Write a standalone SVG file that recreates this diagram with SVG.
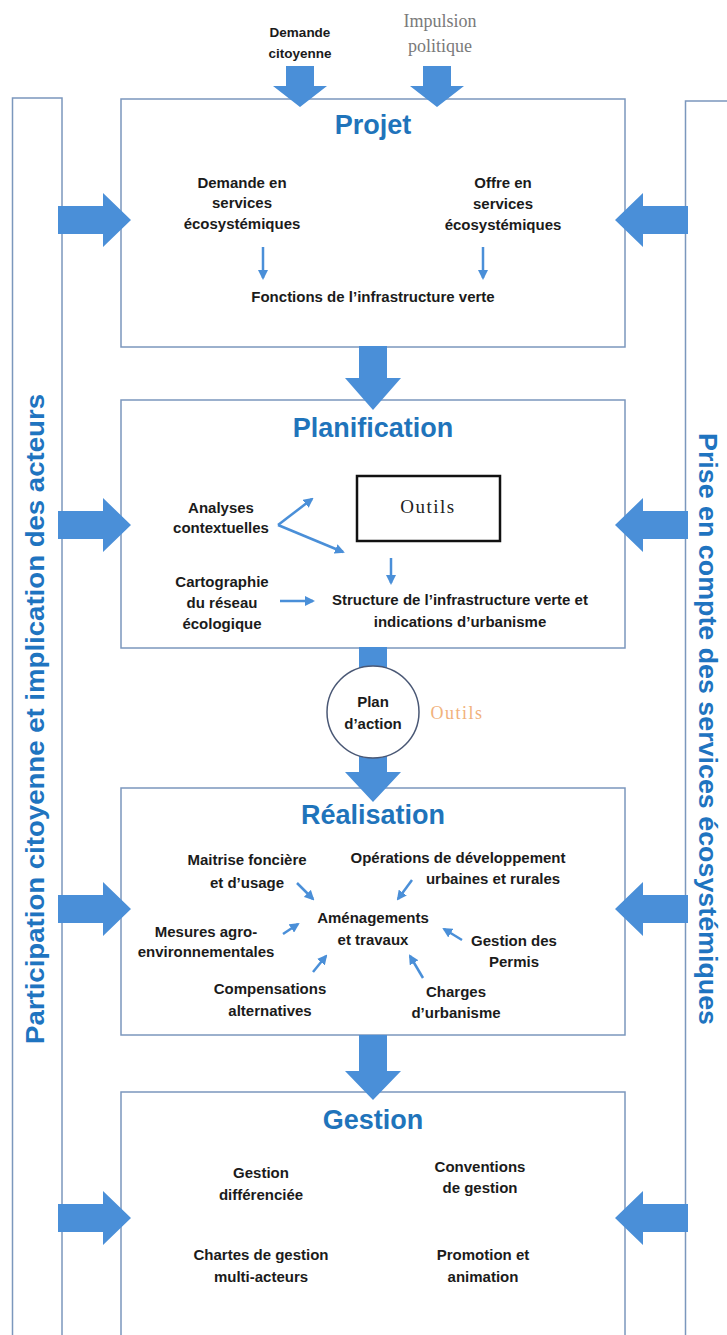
<svg xmlns="http://www.w3.org/2000/svg" width="727" height="1335" viewBox="0 0 727 1335">
<defs>
<style>
.box{fill:#ffffff;stroke:#7b97bd;stroke-width:1.5}
.bar{fill:#ffffff;stroke:#7b97bd;stroke-width:1.5}
.big{fill:#4a8fd8}
.thin{fill:none;stroke:#4a8fd8;stroke-width:2.5;marker-end:url(#ah)}
.t{font-family:'Liberation Sans',Arial,sans-serif;font-weight:bold;font-size:15px;fill:#1b1b1b;text-anchor:middle}
.title{font-family:'Liberation Sans',Arial,sans-serif;font-weight:bold;font-size:27px;fill:#1f74bb;text-anchor:middle}
.side{font-family:'Liberation Sans',Arial,sans-serif;font-weight:bold;font-size:25px;fill:#1f74c0;text-anchor:middle}
.serif{font-family:'Liberation Serif','Times New Roman',serif;text-anchor:middle}
</style>
<marker id="ah" viewBox="0 0 10 10" refX="8" refY="5" markerWidth="4" markerHeight="4" orient="auto">
<path d="M0,0 L10,5 L0,10 z" fill="#4a8fd8"/>
</marker>
</defs>
<rect width="727" height="1335" fill="#ffffff"/>

<g id="node-left-bar">
<rect class="bar" x="12.5" y="98" width="49.5" height="1260"/>
<text class="side" transform="translate(44,719) rotate(-90)" textLength="650" lengthAdjust="spacingAndGlyphs">Participation citoyenne et implication des acteurs</text>
</g>

<g id="node-right-bar">
<rect class="bar" x="685.5" y="101" width="60" height="1260"/>
<text class="side" transform="translate(699,729) rotate(90)" textLength="592" lengthAdjust="spacingAndGlyphs">Prise en compte des services écosystémiques</text>
</g>

<g id="node-demande-citoyenne">
<text class="t" x="300" y="37" style="font-size:13.5px">Demande</text>
<text class="t" x="300" y="58" style="font-size:13.5px">citoyenne</text>
</g>

<g id="node-impulsion-politique">
<text class="serif" x="440" y="27" style="font-size:18px;fill:#7a7a7a">Impulsion</text>
<text class="serif" x="440" y="52" style="font-size:18px;fill:#7a7a7a">politique</text>
</g>

<g id="node-projet">
<rect class="box" x="121" y="99" width="504" height="248"/>
<text class="title" x="373" y="134">Projet</text>
<text class="t" x="242" y="188">Demande en</text>
<text class="t" x="242" y="208">services</text>
<text class="t" x="242" y="229">écosystémiques</text>
<text class="t" x="503" y="188">Offre en</text>
<text class="t" x="503" y="209">services</text>
<text class="t" x="503" y="230">écosystémiques</text>
<text class="t" x="373" y="302">Fonctions de l’infrastructure verte</text>
</g>

<g id="node-planification">
<rect class="box" x="121" y="400" width="504" height="248"/>
<text class="title" x="373" y="437">Planification</text>
<text class="t" x="221" y="513">Analyses</text>
<text class="t" x="221" y="533">contextuelles</text>
<text class="t" x="222" y="587">Cartographie</text>
<text class="t" x="222" y="608">du réseau</text>
<text class="t" x="222" y="629">écologique</text>
<text class="t" x="460" y="605">Structure de l’infrastructure verte et</text>
<text class="t" x="460" y="627">indications d’urbanisme</text>
</g>

<g id="node-outils">
<rect x="357" y="476" width="143" height="65" fill="#ffffff" stroke="#111111" stroke-width="2.5"/>
<text class="serif" x="428" y="513" style="font-size:19px;fill:#222222;letter-spacing:1.5px">Outils</text>
</g>

<g id="node-realisation">
<rect class="box" x="121" y="788" width="504" height="247"/>
<text class="title" x="373" y="824">Réalisation</text>
<text class="t" x="247" y="865">Maitrise foncière</text>
<text class="t" x="247" y="888">et d’usage</text>
<text class="t" x="458" y="863">Opérations de développement</text>
<text class="t" x="493" y="884">urbaines et rurales</text>
<text class="t" x="373" y="923">Aménagements</text>
<text class="t" x="373" y="945">et travaux</text>
<text class="t" x="206" y="937">Mesures agro-</text>
<text class="t" x="206" y="957">environnementales</text>
<text class="t" x="514" y="946">Gestion des</text>
<text class="t" x="514" y="967">Permis</text>
<text class="t" x="270" y="994">Compensations</text>
<text class="t" x="270" y="1016">alternatives</text>
<text class="t" x="456" y="997">Charges</text>
<text class="t" x="456" y="1018">d’urbanisme</text>
</g>

<g id="node-gestion">
<rect class="box" x="121" y="1092" width="504" height="270"/>
<text class="title" x="373" y="1129">Gestion</text>
<text class="t" x="261" y="1178">Gestion</text>
<text class="t" x="261" y="1200">différenciée</text>
<text class="t" x="480" y="1172">Conventions</text>
<text class="t" x="480" y="1193">de gestion</text>
<text class="t" x="261" y="1260">Chartes de gestion</text>
<text class="t" x="261" y="1282">multi-acteurs</text>
<text class="t" x="483" y="1260">Promotion et</text>
<text class="t" x="483" y="1282">animation</text>
</g>

<g id="connectors">
<polygon class="big" points="286,66 314,66 314,86 327,86 300,107 273,86 286,86"/>
<polygon class="big" points="423,66 451,66 451,86 464,86 437,107 410,86 423,86"/>
<polygon class="big" points="359,346 387,346 387,378 401,378 373,410 345,378 359,378"/>
<rect class="big" x="359" y="647" width="28" height="24"/>
<polygon class="big" points="359,752 387,752 387,772 401,772 373,802 345,772 359,772"/>
<polygon class="big" points="359,1035 387,1035 387,1071 401,1071 373,1100 345,1071 359,1071"/>
<polygon class="big" points="58,206 103,206 103,193 131,220 103,247 103,234 58,234"/>
<polygon class="big" points="58,511 103,511 103,498 131,525 103,552 103,539 58,539"/>
<polygon class="big" points="58,895 103,895 103,882 131,909 103,936 103,923 58,923"/>
<polygon class="big" points="58,1204 103,1204 103,1191 131,1218 103,1245 103,1232 58,1232"/>
<polygon class="big" points="688,206 643,206 643,193 615,220 643,247 643,234 688,234"/>
<polygon class="big" points="688,511 643,511 643,498 615,525 643,552 643,539 688,539"/>
<polygon class="big" points="688,895 643,895 643,882 615,909 643,936 643,923 688,923"/>
<polygon class="big" points="688,1204 643,1204 643,1191 615,1218 643,1245 643,1232 688,1232"/>
<line class="thin" x1="263" y1="247" x2="263" y2="278"/>
<line class="thin" x1="483" y1="247" x2="483" y2="278"/>
<polyline class="thin" points="278,525 312,499"/>
<polyline class="thin" points="278,525 343,552"/>
<line class="thin" x1="391" y1="558" x2="391" y2="583"/>
<line class="thin" x1="280" y1="601" x2="313" y2="601"/>
<line class="thin" x1="297" y1="883" x2="313" y2="899"/>
<line class="thin" x1="412" y1="880" x2="398" y2="899"/>
<line class="thin" x1="283" y1="934" x2="298" y2="924"/>
<line class="thin" x1="462" y1="940" x2="444" y2="929"/>
<line class="thin" x1="313" y1="972" x2="326" y2="956"/>
<line class="thin" x1="423" y1="978" x2="410" y2="956"/>
</g>

<g id="node-plan-action">
<circle cx="373" cy="712" r="46" fill="#ffffff" stroke="#4a5875" stroke-width="1.5"/>
<text class="t" x="373" y="707">Plan</text>
<text class="t" x="373" y="729">d’action</text>
</g>

<g id="node-outils-label">
<text class="serif" x="457" y="719" style="font-size:18px;fill:#f1b27c;letter-spacing:1.5px">Outils</text>
</g>
</svg>
